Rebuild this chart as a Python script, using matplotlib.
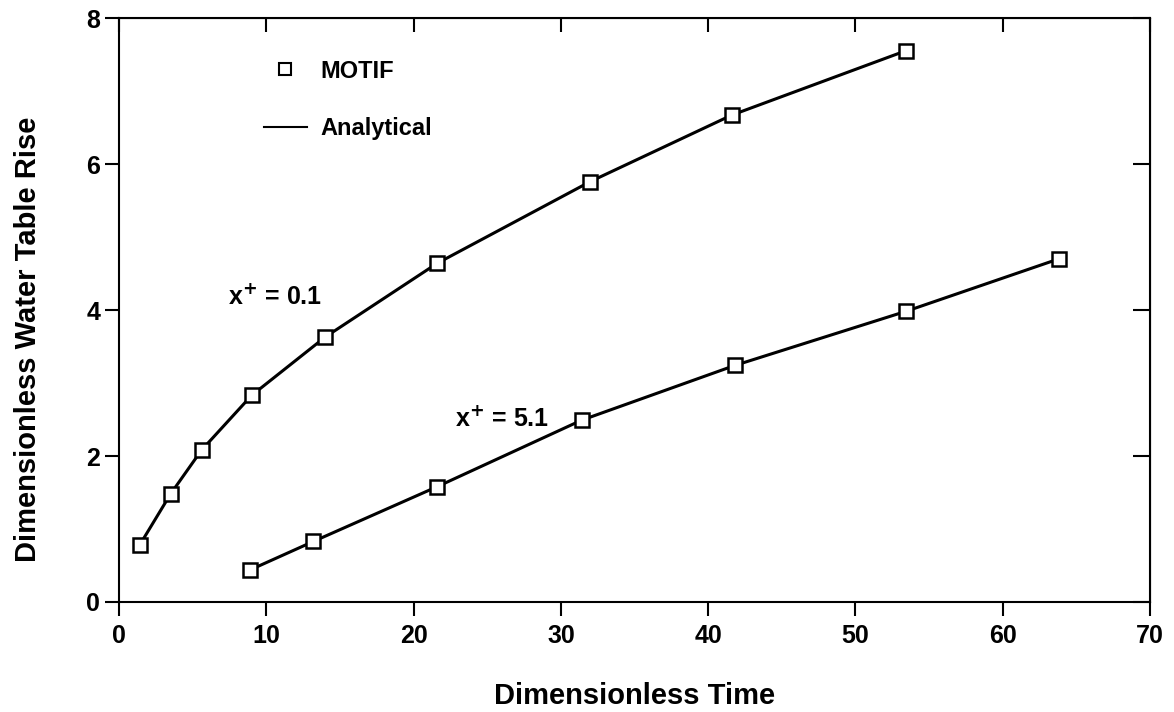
import matplotlib.pyplot as plt
from matplotlib.lines import Line2D

plt.rcParams['font.family'] = ['Liberation Sans', 'DejaVu Sans']
plt.rcParams['font.weight'] = 'bold'

# x+ = 0.1 series
time_01 = [1.4, 3.5, 5.6, 9.0, 14.0, 21.6, 32.0, 41.6, 53.4]
rise_01 = [0.78, 1.48, 2.08, 2.83, 3.63, 4.64, 5.76, 6.67, 7.55]

# x+ = 5.1 series
time_51 = [8.9, 13.2, 21.6, 31.4, 41.8, 53.4, 63.8]
rise_51 = [0.44, 0.83, 1.58, 2.49, 3.24, 3.98, 4.70]

fig = plt.figure(figsize=(11.74, 7.12), dpi=100)
ax = fig.add_axes([0.1014, 0.1545, 0.8782, 0.8202])

for t, r in [(time_01, rise_01), (time_51, rise_51)]:
    ax.plot(t, r, color='black', lw=2.2, zorder=2)
    ax.plot(t, r, ls='none', marker='s', ms=10, mfc='white', mec='black',
            mew=1.8, zorder=3)

ax.text(7.4, 4.08, r'x$^{+}$ = 0.1', fontsize=18, fontweight='bold')
ax.text(22.8, 2.41, r'x$^{+}$ = 5.1', fontsize=18, fontweight='bold')

handles = [
    Line2D([], [], ls='none', marker='s', ms=8, mfc='white', mec='black', mew=1.5),
    Line2D([], [], color='black', lw=1.5),
]
ax.legend(handles, ['MOTIF', 'Analytical'], loc='upper left',
          bbox_to_anchor=(0.12, 0.965), frameon=False, fontsize=17,
          handlelength=1.8, labelspacing=1.45, handletextpad=0.6)

ax.set_xlim(0, 70)
ax.set_ylim(0, 8)
ax.set_xticks(range(0, 71, 10))
ax.set_yticks(range(0, 9, 2))
ax.tick_params(axis='both', direction='out', length=10, width=1.5,
               labelsize=18, top=False, right=False)
ax.tick_params(axis='x', pad=6)
for lab in ax.get_xticklabels() + ax.get_yticklabels():
    lab.set_fontweight('bold')

# top and right ticks point inward
top = ax.secondary_xaxis('top')
top.set_xticks(range(0, 71, 10))
top.tick_params(direction='in', length=10, width=1.5, labeltop=False)
right = ax.secondary_yaxis('right')
right.set_yticks(range(0, 9, 2))
right.tick_params(direction='in', length=12, width=1.5, labelright=False)

for s in ax.spines.values():
    s.set_linewidth(1.5)

ax.set_xlabel('Dimensionless Time', fontsize=21, fontweight='bold', labelpad=24)
ax.set_ylabel('Dimensionless Water Table Rise', fontsize=21, fontweight='bold',
              labelpad=16)
ax.yaxis.set_label_coords(-0.075, 0.45)

fig.savefig('out.png', dpi=100)
